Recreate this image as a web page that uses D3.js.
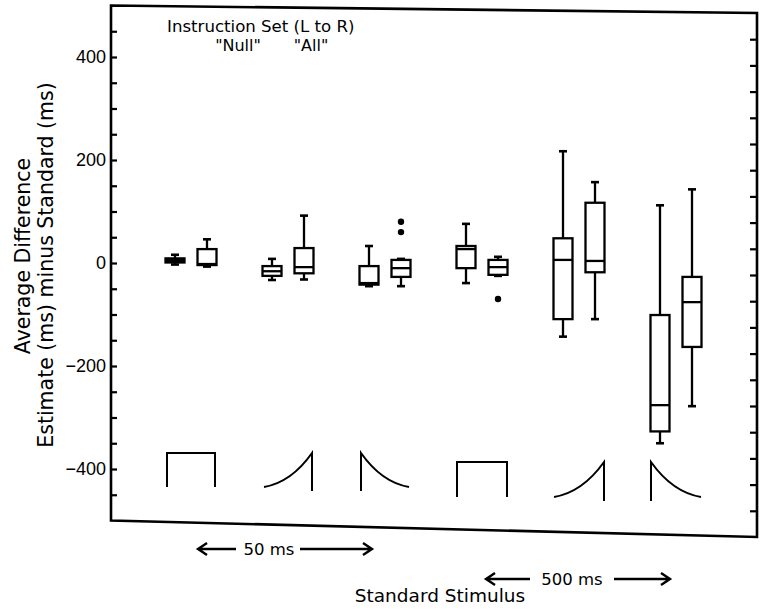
<!DOCTYPE html>
<html><head><meta charset="utf-8">
<script src="https://cdn.jsdelivr.net/npm/d3@7"></script>
<style>
body{margin:0;background:#fff;}
svg{display:block;}
text{fill:#000;}
</style></head>
<body><svg id="c" width="763" height="611"></svg>
<script>
// ---- data ----
const groups = ["50 ms square", "50 ms rising", "50 ms decaying", "500 ms square", "500 ms rising", "500 ms decaying"];
const stimulusShape = ["rect", "rise", "decay", "rect", "rise", "decay"];
const instructions = ["Null", "All"];
// "Null" instruction set boxes
const nullMin = [-3, -33, -45, -39, -143, -350];
const nullQ1  = [1, -25, -42, -10, -109, -327];
const nullMed = [4, -16, -39, 27, 6, -276];
const nullQ3  = [9, -6, -6, 33, 48, -101];
const nullMax = [16, 8, 33, 76, 217, 112];
const nullOut = [[], [], [], [], [], []];
// "All" instruction set boxes
const allMin = [-7, -32, -45, -25, -109, -278];
const allQ1  = [-4, -20, -27, -23, -18, -163];
const allMed = [-2, -8, -10, -8, 4, -76];
const allQ3  = [27, 29, 6, 6, 117, -27];
const allMax = [46, 92, 8, 12, 157, 143];
const allOut = [[], [], [80, 60], [-70], [], []];
const yTicks = [-450, -400, -350, -300, -250, -200, -150, -100, -50, 0, 50, 100, 150, 200, 250, 300, 350, 400, 450];
const yLabels = [-400, -200, 0, 200, 400];

// ---- layout ----
const svg = d3.select("#c");
const X0 = 111, X1 = 757;
const y = d3.scaleLinear().domain([-500, 500]).range([520.5, 5.5]);
const yR = d3.scaleLinear().domain([-500, 500]).range([537, 13]); // right edge (page slightly skewed)
const x = d3.scalePoint().domain(groups).range([191, 676]);
const off = {Null: -16, All: 16};
const boxW = 19, capW = 8;
const SW = 2.3;

// frame
svg.append("path")
  .attr("d", `M${X0},${y(500)}L${X1},${yR(500)}L${X1},${yR(-500)}L${X0},${y(-500)}Z`)
  .attr("fill", "none").attr("stroke", "#000").attr("stroke-width", 2.6);

// left axis
const la = svg.append("g").attr("transform", `translate(${X0},0)`)
  .call(d3.axisLeft(y).tickValues(yTicks).tickSizeInner(-6).tickSizeOuter(0).tickPadding(5)
    .tickFormat(d => yLabels.includes(d) ? (d < 0 ? "\u2212" + Math.abs(d) : d) : ""));
la.select(".domain").remove();
la.selectAll("line").attr("stroke", "#000").attr("stroke-width", 2.2);
la.selectAll("text").attr("font-family", "Liberation Sans, Arial, sans-serif").attr("font-size", 18).attr("fill", "#000");

// right axis
const ra = svg.append("g").attr("transform", `translate(${X1},0)`)
  .call(d3.axisRight(yR).tickValues(yTicks).tickSizeInner(-7).tickSizeOuter(0).tickFormat(""));
ra.select(".domain").remove();
ra.selectAll("line").attr("stroke", "#000").attr("stroke-width", 2.2);

// boxes
const series = [
  {name: "Null", mn: nullMin, q1: nullQ1, md: nullMed, q3: nullQ3, mx: nullMax, out: nullOut},
  {name: "All", mn: allMin, q1: allQ1, md: allMed, q3: allQ3, mx: allMax, out: allOut}
];
const gb = svg.append("g").attr("stroke", "#000").attr("fill", "none").attr("stroke-width", SW);
series.forEach(s => {
  groups.forEach((g, i) => {
    const cx = x(g) + off[s.name];
    gb.append("line").attr("x1", cx).attr("x2", cx).attr("y1", y(s.q3[i])).attr("y2", y(s.mx[i]));
    gb.append("line").attr("x1", cx).attr("x2", cx).attr("y1", y(s.q1[i])).attr("y2", y(s.mn[i]));
    gb.append("line").attr("x1", cx - capW / 2).attr("x2", cx + capW / 2).attr("y1", y(s.mx[i])).attr("y2", y(s.mx[i])).attr("stroke-width", 2.6);
    gb.append("line").attr("x1", cx - capW / 2).attr("x2", cx + capW / 2).attr("y1", y(s.mn[i])).attr("y2", y(s.mn[i])).attr("stroke-width", 2.6);
    const small = (y(s.q1[i]) - y(s.q3[i])) < 6;
    gb.append("rect").attr("x", cx - boxW / 2).attr("width", boxW)
      .attr("y", y(s.q3[i])).attr("height", y(s.q1[i]) - y(s.q3[i]))
      .attr("fill", small ? "#000" : "#fff");
    gb.append("line").attr("x1", cx - boxW / 2).attr("x2", cx + boxW / 2).attr("y1", y(s.md[i])).attr("y2", y(s.md[i]));
    s.out[i].forEach(v => {
      svg.append("circle").attr("cx", cx).attr("cy", y(v)).attr("r", 3.2).attr("fill", "#000");
    });
  });
});

// stimulus glyphs
const gg = svg.append("g").attr("stroke", "#000").attr("fill", "none").attr("stroke-width", 2);
groups.forEach((g, i) => {
  const cx = x(g);
  const long = i >= 3;
  const yt = long ? 462 : 453;
  const yb = long ? 497 : 487;
  const hw = long ? 25 : 24;
  const x0 = cx - hw, x1 = cx + hw, h = yb - yt, w = x1 - x0;
  let d;
  if (stimulusShape[i] === "rect") {
    d = `M${x0},${yb}L${x0},${yt}L${x1},${yt}L${x1},${yb}`;
  } else if (stimulusShape[i] === "rise") {
    d = `M${x0},${yb}C${x0 + 0.5 * w},${yb - 0.12 * h} ${x1 - 0.2 * w},${yt + 0.4 * h} ${x1},${yt}L${x1},${yb + 4}`;
  } else {
    d = `M${x0},${yb + 4}L${x0},${yt}C${x0 + 0.2 * w},${yt + 0.4 * h} ${x1 - 0.5 * w},${yb - 0.12 * h} ${x1},${yb}`;
  }
  gg.append("path").attr("d", d);
});

// texts
const TF = "DejaVu Sans, Verdana, sans-serif";
svg.append("text").attr("x", 167).attr("y", 32).attr("font-family", TF).attr("font-size", 16.6).text("Instruction Set (L to R)");
svg.append("text").attr("x", 238).attr("y", 51).attr("text-anchor", "middle").attr("font-family", TF).attr("font-size", 16).text("\"Null\"");
svg.append("text").attr("x", 311).attr("y", 51).attr("text-anchor", "middle").attr("font-family", TF).attr("font-size", 16).text("\"All\"");

svg.append("text").attr("x", 440).attr("y", 602).attr("text-anchor", "middle").attr("font-family", TF).attr("font-size", 18.5).text("Standard Stimulus");

svg.append("text").attr("transform", "translate(30,256) rotate(-90)").attr("text-anchor", "middle")
  .attr("font-family", TF).attr("font-size", 20.5).text("Average Difference");
svg.append("text").attr("transform", "translate(53,265) rotate(-90)").attr("text-anchor", "middle")
  .attr("font-family", TF).attr("font-size", 20.5).text("Estimate (ms) minus Standard (ms)");

// duration arrows
function arrowLabel(label, cy, l0, l1, tx, r0, r1) {
  const ga = svg.append("g").attr("stroke", "#000").attr("stroke-width", 2.4).attr("fill", "none");
  ga.append("path").attr("d", `M${l1},${cy}L${l0},${cy}M${l0 + 9},${cy - 6}L${l0},${cy}L${l0 + 9},${cy + 6}`);
  ga.append("path").attr("d", `M${r0},${cy}L${r1},${cy}M${r1 - 9},${cy - 6}L${r1},${cy}L${r1 - 9},${cy + 6}`);
  svg.append("text").attr("x", tx).attr("y", cy + 6).attr("text-anchor", "middle").attr("font-family", TF).attr("font-size", 16.5).text(label);
}
arrowLabel("50 ms", 549, 198, 236, 269, 300, 372);
arrowLabel("500 ms", 579, 486, 530, 572, 614, 670);
</script></body></html>
